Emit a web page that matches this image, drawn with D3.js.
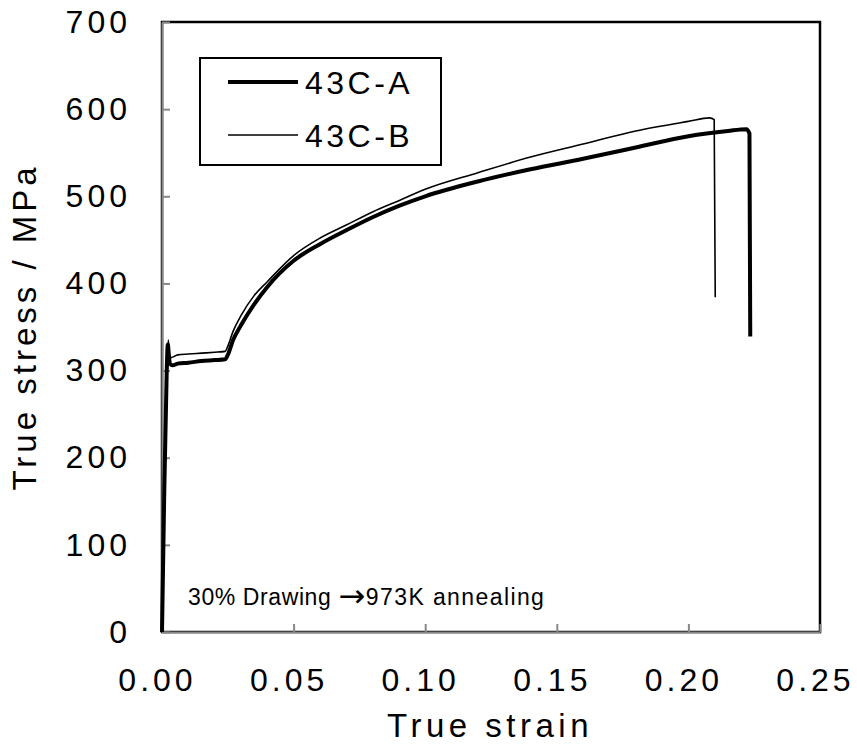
<!DOCTYPE html>
<html>
<head>
<meta charset="utf-8">
<script src="https://cdn.jsdelivr.net/npm/d3@7"></script>
<style>
  body { margin: 0; background: #fff; }
  text { font-family: "Liberation Sans", Arial, sans-serif; fill: #000; }
</style>
</head>
<body>
<div id="chart"></div>
<script>
var svgWidth = 857;
var svgHeight = 756;

// plot frame
var margin = { top: 22, right: 37, bottom: 124, left: 162 };
var width = svgWidth - margin.left - margin.right;
var height = svgHeight - margin.top - margin.bottom;

// data
var seriesNames = ["43C-A", "43C-B"];
var strainA = [0, 0.0008, 0.0018, 0.0022, 0.0026, 0.003, 0.004, 0.006, 0.01, 0.015, 0.02, 0.024, 0.025, 0.027, 0.03, 0.035, 0.04, 0.05, 0.06, 0.07, 0.08, 0.09, 0.10, 0.12, 0.14, 0.16, 0.18, 0.20, 0.215, 0.222, 0.2232, 0.2235];
var stressA = [0, 150, 300, 330, 318, 308, 306, 308, 309, 311, 312, 313, 318, 335, 352, 376, 396, 426, 445, 461, 476, 489, 500, 517, 531, 543, 556, 569, 575, 577, 572, 339];
var strainB = [0, 0.0009, 0.002, 0.0024, 0.0028, 0.0035, 0.006, 0.01, 0.015, 0.02, 0.024, 0.025, 0.027, 0.03, 0.035, 0.04, 0.05, 0.06, 0.07, 0.08, 0.09, 0.10, 0.12, 0.14, 0.16, 0.18, 0.20, 0.208, 0.2098, 0.2102];
var stressB = [0, 150, 300, 335, 318, 315, 318, 319, 320, 321, 322, 328, 345, 363, 386, 402, 432, 452, 467, 482, 495, 508, 527, 545, 560, 575, 586, 590, 588, 384];
var xTicks = [0, 0.05, 0.10, 0.15, 0.20, 0.25];
var yTicks = [0, 100, 200, 300, 400, 500, 600, 700];

var svg = d3.select("#chart")
    .append("svg")
    .attr("width", svgWidth)
    .attr("height", svgHeight);

var chartGroup = svg.append("g")
    .attr("transform", `translate(${margin.left}, ${margin.top})`);

var xScale = d3.scaleLinear().domain([0, 0.25]).range([0, width]);
var yScale = d3.scaleLinear().domain([0, 700]).range([height, 0]);

// black frame
chartGroup.append("rect")
    .attr("width", width)
    .attr("height", height)
    .attr("fill", "none")
    .attr("stroke", "#000")
    .attr("stroke-width", 2.5);

// axes, ticks pointing inward
var bottomAxis = d3.axisBottom(xScale)
    .tickValues(xTicks)
    .tickFormat(d3.format(".2f"))
    .tickSizeInner(-8)
    .tickSizeOuter(0)
    .tickPadding(36);

var leftAxis = d3.axisLeft(yScale)
    .tickValues(yTicks)
    .tickFormat(d3.format("d"))
    .tickSizeInner(-8)
    .tickSizeOuter(0)
    .tickPadding(31);

var xAxisG = chartGroup.append("g")
    .attr("transform", `translate(0, ${height})`)
    .call(bottomAxis);

var yAxisG = chartGroup.append("g")
    .call(leftAxis);

[xAxisG, yAxisG].forEach(function (g) {
    g.select(".domain").attr("stroke", "#888").attr("stroke-width", 2);
    g.selectAll(".tick line").attr("stroke", "#888").attr("stroke-width", 2);
    g.selectAll(".tick text")
        .attr("font-family", "Liberation Sans, Arial, sans-serif")
        .attr("font-size", 32)
        .attr("letter-spacing", "4px")
        .attr("fill", "#000");
});
xAxisG.selectAll(".tick text").attr("dx", "-5");

// curves
var line = d3.line()
    .x(d => xScale(d[0]))
    .y(d => yScale(d[1]))
    .curve(d3.curveMonotoneX);

var dataA = strainA.map((s, i) => [s, stressA[i]]);
var dataB = strainB.map((s, i) => [s, stressB[i]]);

chartGroup.append("path")
    .datum(dataA)
    .attr("d", line)
    .attr("fill", "none")
    .attr("stroke", "#000")
    .attr("stroke-width", 4)
    .attr("stroke-linejoin", "round");

chartGroup.append("path")
    .datum(dataB)
    .attr("d", line)
    .attr("fill", "none")
    .attr("stroke", "#000")
    .attr("stroke-width", 1.6)
    .attr("stroke-linejoin", "round");

// legend
var legend = svg.append("g");
legend.append("rect")
    .attr("x", 200).attr("y", 58)
    .attr("width", 241).attr("height", 107)
    .attr("fill", "#fff")
    .attr("stroke", "#000")
    .attr("stroke-width", 2);

var legendWidths = [4, 1.6];
seriesNames.forEach(function (name, i) {
    var ly = 82 + i * 53;
    legend.append("line")
        .attr("x1", 228).attr("x2", 298)
        .attr("y1", ly).attr("y2", ly)
        .attr("stroke", "#000")
        .attr("stroke-width", legendWidths[i]);
    legend.append("text")
        .attr("x", 305).attr("y", ly + 12)
        .attr("font-size", 32)
        .attr("letter-spacing", "3.5px")
        .text(name);
});

// annotation
var note = svg.append("text")
    .attr("x", 188).attr("y", 605)
    .attr("font-size", 23)
    .attr("letter-spacing", "0.6px");
note.append("tspan").text("30% Drawing ");
note.append("tspan")
    .attr("font-family", "DejaVu Sans")
    .attr("font-size", 32)
    .attr("dy", 2)
    .text("\u2192");
note.append("tspan")
    .attr("dy", -2)
    .attr("letter-spacing", "1.4px")
    .text("973K annealing");

// axis titles
svg.append("text")
    .attr("x", 490).attr("y", 737)
    .attr("text-anchor", "middle")
    .attr("font-size", 33)
    .attr("letter-spacing", "4.5px")
    .text("True strain");

svg.append("text")
    .attr("transform", "translate(36, 327) rotate(-90)")
    .attr("text-anchor", "middle")
    .attr("font-size", 33)
    .attr("letter-spacing", "4px")
    .text("True stress / MPa");
</script>
</body>
</html>
